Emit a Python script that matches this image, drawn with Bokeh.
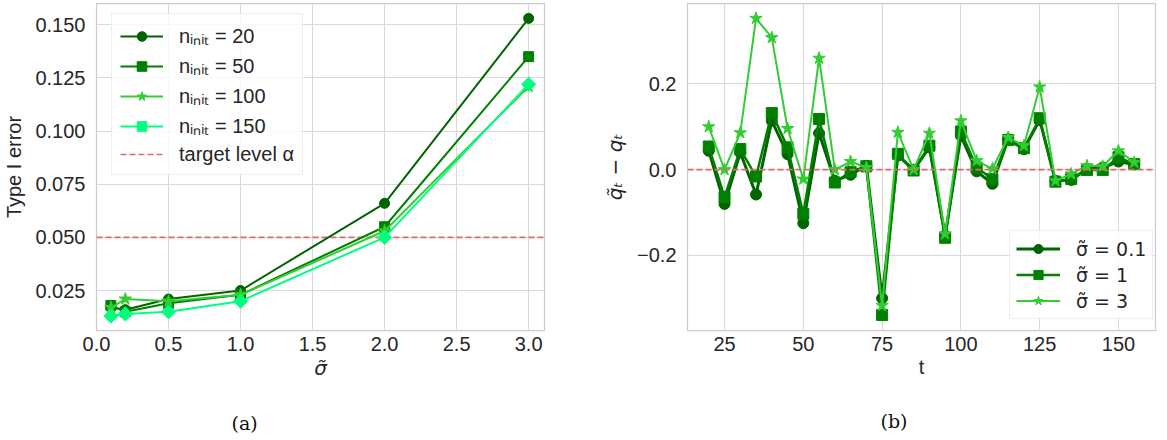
import numpy as np
from bokeh.plotting import figure
from bokeh.layouts import row
from bokeh.models import (Range1d, Legend, LegendItem, Title, Span, FixedTicker,
                          CustomJSTickFormatter, ColumnDataSource)
from bokeh.embed import file_html
from bokeh.resources import INLINE

# ---------------- data: panel (a) ----------------
sigma = [0.1, 0.2, 0.5, 1.0, 2.0, 3.0]
err_n20 = [0.017, 0.016, 0.021, 0.025, 0.066, 0.153]
err_n50 = [0.018, 0.015, 0.019, 0.023, 0.055, 0.135]
err_n100 = [0.017, 0.021, 0.020, 0.023, 0.053, 0.121]
err_n150 = [0.013, 0.014, 0.015, 0.020, 0.050, 0.122]
alpha_level = 0.05
labels_a = ["nᵢₙᵢₜ = 20", "nᵢₙᵢₜ = 50", "nᵢₙᵢₜ = 100", "nᵢₙᵢₜ = 150"]
xticks_a = [0.0, 0.5, 1.0, 1.5, 2.0, 2.5, 3.0]
yticks_a = [0.025, 0.050, 0.075, 0.100, 0.125, 0.150]
xlim_a = (0.0, 3.11)
ylim_a = (0.0062, 0.160)

# ---------------- data: panel (b) ----------------
t_vals = [20, 25, 30, 35, 40, 45, 50, 55, 60, 65, 70, 75, 80, 85,
          90, 95, 100, 105, 110, 115, 120, 125, 130, 135, 140, 145, 150, 155]
diff_s01 = [0.044, -0.080, 0.040, -0.058, 0.114, 0.036, -0.125, 0.085, -0.026, -0.012,
            0.009, -0.300, 0.033, -0.001, 0.052, -0.154, 0.079, -0.004, -0.033, 0.071,
            0.048, 0.116, -0.026, -0.024, 0.002, 0.005, 0.019, 0.012]
diff_s1 = [0.054, -0.064, 0.048, -0.016, 0.132, 0.052, -0.103, 0.118, -0.030, -0.005,
           0.008, -0.339, 0.037, -0.002, 0.056, -0.159, 0.089, 0.005, -0.022, 0.069,
           0.050, 0.120, -0.028, -0.022, -0.001, -0.001, 0.029, 0.013]
diff_s3 = [0.100, 0.000, 0.086, 0.353, 0.308, 0.096, -0.022, 0.260, 0.000, 0.019,
           0.005, -0.317, 0.087, 0.000, 0.085, -0.150, 0.114, 0.021, 0.002, 0.075,
           0.056, 0.193, -0.026, -0.010, 0.009, 0.008, 0.044, 0.017]
labels_b = ["σ̃ = 0.1", "σ̃ = 1", "σ̃ = 3"]
xticks_b = [25, 50, 75, 100, 125, 150]
yticks_b = [-0.2, 0.0, 0.2]
xlim_b = (13.25, 161.75)
ylim_b = (-0.3753, 0.3877)

TXT = "#262626"
GRID = "#d9d9d9"
FONT = "Liberation Sans"
RED = "#e06a6a"


def style(p):
    p.grid.grid_line_color = GRID
    p.grid.grid_line_width = 1
    p.outline_line_color = "#cccccc"
    p.outline_line_width = 1.25
    p.background_fill_color = "white"
    for ax in (p.xaxis[0], p.yaxis[0]):
        ax.axis_line_color = None
        ax.major_tick_line_color = None
        ax.minor_tick_line_color = None
        ax.major_tick_out = 0
        ax.major_tick_in = 0
        ax.minor_tick_out = 0
        ax.minor_tick_in = 0
        ax.major_label_text_font = FONT
        ax.major_label_text_font_size = "20px"
        ax.major_label_text_color = TXT
        ax.axis_label_text_color = TXT
        ax.axis_label_text_font_size = "20px"
        ax.axis_label_text_font_style = "normal"
    p.xaxis.major_label_standoff = 6
    p.yaxis.major_label_standoff = 11


def caption(p, text, offset):
    p.add_layout(Title(text=text, align="left", offset=offset, standoff=55,
                       text_font="DejaVu Serif", text_font_size="19px",
                       text_font_style="normal", text_color="#111111"), "below")


# ---------------- panel (a) ----------------
p1 = figure(frame_width=448, frame_height=327,
            x_range=Range1d(*xlim_a), y_range=Range1d(*ylim_a),
            output_backend="svg", toolbar_location=None,
            min_border_left=94, min_border_right=55, min_border_top=3,
            min_border_bottom=110)
style(p1)
p1.xaxis.ticker = FixedTicker(ticks=xticks_a)
p1.yaxis.ticker = FixedTicker(ticks=yticks_a)
p1.xaxis.formatter = CustomJSTickFormatter(code="return tick.toFixed(1);")
p1.yaxis.formatter = CustomJSTickFormatter(code="return tick.toFixed(3);")
p1.yaxis.axis_label = "Type I error"
p1.yaxis.axis_label_text_font = FONT
p1.yaxis.axis_label_standoff = 7
p1.xaxis.axis_label = "σ̃"
p1.xaxis.axis_label_text_font = "DejaVu Sans"
p1.xaxis.axis_label_text_font_style = "italic"
p1.xaxis.axis_label_standoff = 2

r_alpha = p1.line(x=list(xlim_a), y=[alpha_level, alpha_level], line_color=RED,
                  line_width=1.6, line_dash="6 3")

series_a = [
    (err_n20, "#006400", "circle", 10, 0),
    (err_n50, "#008000", "square", 10, 0),
    (err_n100, "#32CD32", "star", 13, 0),
    (err_n150, "#00FF7F", "square", 10, np.pi / 4),
]
items_a = []
for (vals, col, mk, sz, ang), lab in zip(series_a, labels_a):
    src = ColumnDataSource(dict(x=sigma, y=vals))
    rl = p1.line("x", "y", source=src, line_color=col, line_width=2)
    rs = p1.scatter("x", "y", source=src, marker=mk, size=sz, angle=ang,
                    fill_color=col, line_color=col)
    items_a.append(LegendItem(label=lab, renderers=[rl, rs]))
items_a.append(LegendItem(label="target level α", renderers=[r_alpha]))

leg_a = Legend(items=items_a, location=(15, 155), glyph_width=43, glyph_height=24,
               label_height=24, spacing=3, padding=8, label_standoff=16,
               label_text_font=FONT, label_text_font_size="20px",
               label_text_color=TXT, border_line_color="#dddddd",
               background_fill_alpha=0.8, margin=0)
p1.add_layout(leg_a, "center")
caption(p1, "(a)", 135)

# ---------------- panel (b) ----------------
p2 = figure(frame_width=468, frame_height=327,
            x_range=Range1d(*xlim_b), y_range=Range1d(*ylim_b),
            output_backend="svg", toolbar_location=None,
            min_border_left=88, min_border_right=14, min_border_top=3,
            min_border_bottom=110)
style(p2)
p2.xaxis.ticker = FixedTicker(ticks=xticks_b)
p2.yaxis.ticker = FixedTicker(ticks=yticks_b)
p2.yaxis.formatter = CustomJSTickFormatter(
    code="return tick < -1e-9 ? '\u2212' + (-tick).toFixed(1) : Math.abs(tick).toFixed(1);")
p2.xaxis.axis_label = "t"
p2.xaxis.axis_label_text_font = FONT
p2.xaxis.axis_label_standoff = 2
p2.yaxis.axis_label = "q̃ₜ − qₜ"
p2.yaxis.axis_label_text_font = "DejaVu Sans"
p2.yaxis.axis_label_text_font_style = "italic"
p2.yaxis.axis_label_standoff = 7

span_b = Span(location=0.0, dimension="width", line_color=RED,
              line_width=1.6, line_dash="6 3")
p2.add_layout(span_b)

series_b = [
    (diff_s01, "#006400", "circle", 11, 3),
    (diff_s1, "#008000", "square", 11, 2.5),
    (diff_s3, "#32CD32", "star", 13, 2),
]
items_b = []
for (vals, col, mk, sz, lw), lab in zip(series_b, labels_b):
    src = ColumnDataSource(dict(x=t_vals, y=vals))
    rl = p2.line("x", "y", source=src, line_color=col, line_width=lw)
    rs = p2.scatter("x", "y", source=src, marker=mk, size=sz,
                    fill_color=col, line_color=col)
    items_b.append(LegendItem(label=lab, renderers=[rl, rs]))

leg_b = Legend(items=items_b, location=(322, 11), glyph_width=44, glyph_height=23,
               label_height=23, spacing=3, padding=6, label_standoff=16,
               label_text_font="DejaVu Sans", label_text_font_size="19px",
               label_text_color=TXT, border_line_color="#dddddd",
               background_fill_alpha=0.8, margin=0)
p2.add_layout(leg_b, "center")
caption(p2, "(b)", 193)

layout = row(p1, p2)

open("out.html", "w").write(file_html(layout, INLINE))
